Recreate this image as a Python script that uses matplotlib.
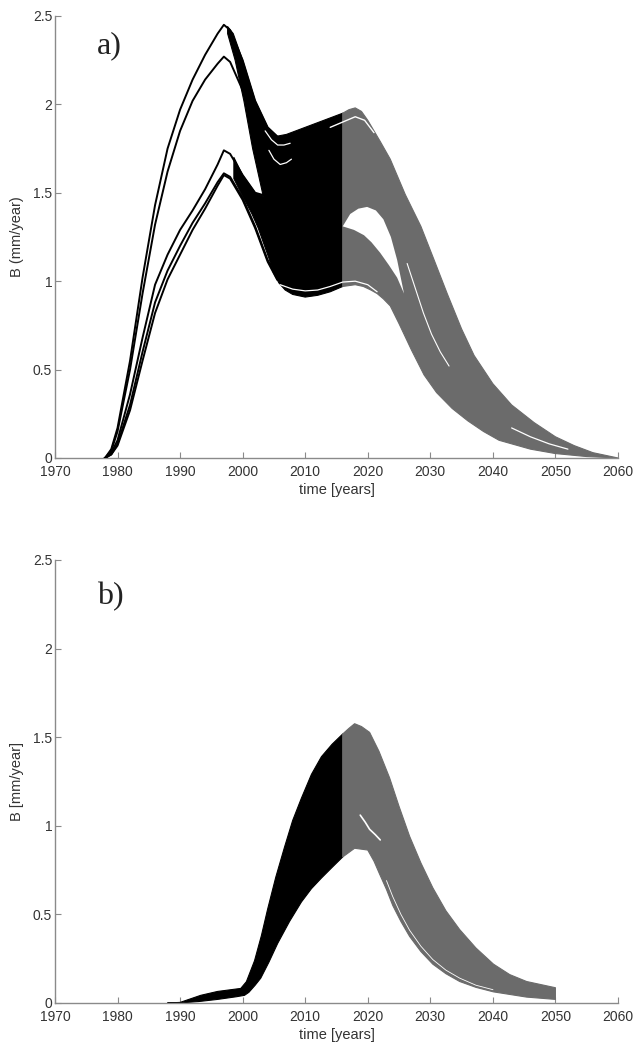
import numpy as np
import matplotlib
matplotlib.use("Agg")
import matplotlib.pyplot as plt

# ---------------- data ----------------
# panel a: individual early trajectories
a_years_early = [1978, 1979, 1980, 1982, 1984, 1986, 1988, 1990, 1992, 1994, 1996, 1997, 1998, 2000, 2002, 2004, 2005.5]
a_curve_A = [0, 0.05, 0.17, 0.55, 1.02, 1.43, 1.75, 1.97, 2.14, 2.28, 2.40, 2.45, 2.42, 2.25, 2.02, 1.87, 1.82]
a_curve_B = [0, 0.04, 0.15, 0.50, 0.93, 1.32, 1.62, 1.85, 2.02, 2.14, 2.23, 2.27, 2.24, 2.08, 1.88, 1.73, 1.68]
a_curve_C = [0, 0.03, 0.10, 0.36, 0.68, 0.98, 1.15, 1.29, 1.40, 1.52, 1.66, 1.74, 1.72, 1.60, 1.50, 1.48, 1.47]
a_curve_D = [0, 0.02, 0.08, 0.30, 0.60, 0.88, 1.06, 1.20, 1.33, 1.44, 1.56, 1.61, 1.59, 1.47, 1.31, 1.12, 1.02]
a_curve_D2 = [0, 0.02, 0.07, 0.27, 0.55, 0.82, 1.01, 1.15, 1.29, 1.41, 1.54, 1.60, 1.58, 1.46, 1.30, 1.11, 1.01]

# panel a: ensemble outline up to 2016 (black) - top edge and bottom outline
a_black_top_years = [1997.6, 1998.5, 2000, 2002, 2004, 2005.5, 2007, 2010, 2013, 2016]
a_black_top_vals = [2.44, 2.40, 2.25, 2.02, 1.87, 1.82, 1.83, 1.87, 1.91, 1.95]
a_black_bot_years = [1997.6, 1998.8, 2000.2, 2001.6, 2003.3, 2002.0, 2000.0, 1998.6, 1998.6, 2000.0, 2001.5,
                     2002.5, 2003.3, 2004.2, 2004.9, 2005.8, 2006.8, 2008, 2010, 2012, 2014, 2016]
a_black_bot_vals = [2.40, 2.25, 2.02, 1.75, 1.48, 1.50, 1.60, 1.70, 1.58, 1.48, 1.38,
                    1.30, 1.22, 1.13, 1.05, 0.99, 0.95, 0.925, 0.91, 0.92, 0.94, 0.97]

# panel a: projection after 2016 (grey)
a_grey_top_years = [2016, 2017, 2018, 2019, 2020, 2022, 2023.6, 2026, 2028.5, 2030.5, 2032.7, 2035, 2037, 2040, 2043,
                    2046.6, 2050, 2053, 2056, 2060]
a_grey_top_vals = [1.95, 1.97, 1.98, 1.96, 1.91, 1.79, 1.69, 1.49, 1.31, 1.13, 0.93, 0.73, 0.58, 0.42, 0.30,
                   0.20, 0.12, 0.07, 0.03, 0.0]
a_grey_bot_years = [2016, 2018, 2019.3, 2020.5, 2021.5, 2022.5, 2023.6, 2025, 2027, 2029, 2031, 2033.5, 2036, 2038.5,
                    2041, 2046, 2050, 2055, 2060]
a_grey_bot_vals = [0.97, 0.98, 0.97, 0.95, 0.93, 0.90, 0.86, 0.76, 0.61, 0.47, 0.37, 0.28, 0.21, 0.15,
                   0.10, 0.05, 0.025, 0.008, 0.0]

# panel a: white gaps between trajectory groups
a_hole_years = [2016.0, 2017.2, 2018.5, 2019.9, 2021.3, 2022.5, 2023.7, 2024.7, 2025.8, 2024.7, 2023.4, 2022.0, 2020.6, 2019.4, 2017.8]
a_hole_vals = [1.31, 1.38, 1.41, 1.42, 1.40, 1.35, 1.25, 1.12, 0.93, 1.02, 1.09, 1.16, 1.22, 1.26, 1.29]
a_gap1_years = [2003.6, 2004.6, 2005.6, 2006.6, 2007.6]
a_gap1_vals = [1.85, 1.80, 1.77, 1.77, 1.78]
a_gap2_years = [2004.2, 2005.0, 2006.0, 2007.0, 2007.8]
a_gap2_vals = [1.74, 1.69, 1.66, 1.67, 1.69]
a_gap3_years = [2014, 2016, 2018, 2019.5, 2021]
a_gap3_vals = [1.87, 1.90, 1.93, 1.91, 1.84]
a_gap4_years = [2006, 2008, 2010, 2012, 2014, 2016, 2018, 2020, 2021.5]
a_gap4_vals = [0.98, 0.955, 0.945, 0.95, 0.97, 0.995, 1.0, 0.98, 0.94]
a_gap5_years = [2026.3, 2027.6, 2028.9, 2030.2, 2031.6, 2033.0]
a_gap5_vals = [1.10, 0.96, 0.82, 0.70, 0.60, 0.52]
a_gap6_years = [2043, 2044.5, 2046, 2047.5, 2049, 2050.5, 2052]
a_gap6_vals = [0.17, 0.145, 0.12, 0.10, 0.08, 0.065, 0.05]

# panel b
b_black_top_years = [1988, 1990, 1993.3, 1996, 1999.7, 2000.6, 2001.9, 2003, 2004, 2005.3, 2006.7, 2008, 2009.4, 2011,
                     2012.6, 2014.3, 2016]
b_black_top_vals = [0.0, 0.003, 0.043, 0.065, 0.082, 0.12, 0.238, 0.38, 0.53, 0.71, 0.88, 1.03, 1.156, 1.29,
                    1.39, 1.46, 1.518]
b_black_bot_years = [1988, 1990, 1993, 1996, 1999, 2000.3, 2001, 2002, 2002.9, 2004.2, 2005.6, 2007.5, 2009.4, 2011,
                     2012.6, 2014.3, 2016]
b_black_bot_vals = [0.0, 0.0, 0.008, 0.02, 0.035, 0.043, 0.06, 0.10, 0.14, 0.23, 0.336, 0.46, 0.57, 0.645,
                    0.705, 0.765, 0.824]
b_grey_top_years = [2016, 2017, 2017.9, 2019, 2020.3, 2021.8, 2023.5, 2025, 2026.7, 2028.5, 2030.4, 2032.5, 2034.7,
                    2037.3, 2040.1, 2042.7, 2045.4, 2050]
b_grey_top_vals = [1.518, 1.55, 1.576, 1.56, 1.527, 1.42, 1.27, 1.11, 0.94, 0.79, 0.65, 0.52, 0.414,
                   0.31, 0.219, 0.16, 0.121, 0.086]
b_grey_bot_years = [2016, 2017.9, 2020, 2021, 2021.9, 2023, 2024, 2025.3, 2026.7, 2028.5, 2030.4, 2032.5, 2034.7,
                    2037.3, 2040.1, 2045.4, 2050]
b_grey_bot_vals = [0.824, 0.873, 0.863, 0.80, 0.727, 0.64, 0.55, 0.46, 0.375, 0.29, 0.219, 0.165, 0.121,
                   0.088, 0.0625, 0.033, 0.02]
b_gap1_years = [2018.8, 2019.6, 2020.3, 2021.2, 2022]
b_gap1_vals = [1.06, 1.02, 0.98, 0.95, 0.92]
b_gap2_years = [2023, 2024, 2025.3, 2026.7, 2028.5, 2030.4, 2032.5, 2034.7, 2037.3, 2040]
b_gap2_vals = [0.69, 0.60, 0.50, 0.41, 0.32, 0.245, 0.185, 0.14, 0.10, 0.075]

x_ticks = [1970, 1980, 1990, 2000, 2010, 2020, 2030, 2040, 2050, 2060]
y_ticks = [0, 0.5, 1, 1.5, 2, 2.5]
y_ticklabels = ["0", "0.5", "1", "1.5", "2", "2.5"]

# ---------------- drawing ----------------
plt.rcParams['font.family'] = ['Liberation Sans', 'DejaVu Sans']
BLACK = "#000000"
GREY = "#6b6b6b"
AXC = "#8a8a8a"
TXT = "#333333"

fig = plt.figure(figsize=(6.37, 10.43), dpi=100)
ax_a = fig.add_axes([0.0863, 0.5609, 0.8838, 0.4238])
ax_b = fig.add_axes([0.0863, 0.0384, 0.8838, 0.4247])


def poly(ax, tx, ty, bx, by, color):
    xs = list(tx) + list(bx)[::-1]
    ys = list(ty) + list(by)[::-1]
    ax.fill(xs, ys, color=color, lw=0.8, ec=color, zorder=2, joinstyle="round")


def style(ax, ylabel, tag, tag_y):
    ax.set_xlim(1970, 2060)
    ax.set_ylim(0, 2.5)
    ax.set_xticks(x_ticks)
    ax.set_yticks(y_ticks)
    ax.set_yticklabels(y_ticklabels)
    for s in ["top", "right"]:
        ax.spines[s].set_visible(False)
    for s in ["left", "bottom"]:
        ax.spines[s].set_color(AXC)
        ax.spines[s].set_linewidth(1.0)
    ax.tick_params(direction="in", length=4, width=0.8, color=AXC,
                   labelsize=10, labelcolor=TXT)
    ax.tick_params(axis="x", pad=5)
    ax.tick_params(axis="y", pad=2)
    ax.set_xlabel("time [years]", fontsize=10.5, color=TXT, labelpad=3)
    ax.set_ylabel(ylabel, fontsize=10.5, color=TXT, labelpad=6)
    ax.text(0.0747, tag_y, tag, transform=ax.transAxes, fontsize=23,
            family=["Liberation Serif", "DejaVu Serif"], color="#222222",
            ha="left", va="baseline")
    ax.set_facecolor("white")


# panel a
for c in [a_curve_A, a_curve_B, a_curve_C, a_curve_D, a_curve_D2]:
    ax_a.plot(a_years_early, c, color=BLACK, lw=1.4, zorder=3)
poly(ax_a, a_black_top_years, a_black_top_vals, a_black_bot_years, a_black_bot_vals, BLACK)
poly(ax_a, a_grey_top_years, a_grey_top_vals, a_grey_bot_years, a_grey_bot_vals, GREY)
ax_a.fill(a_hole_years, a_hole_vals, color="white", lw=0, zorder=4)
for gx, gy, lw in [(a_gap1_years, a_gap1_vals, 0.9), (a_gap2_years, a_gap2_vals, 0.9),
                   (a_gap3_years, a_gap3_vals, 1.0), (a_gap4_years, a_gap4_vals, 0.9),
                   (a_gap5_years, a_gap5_vals, 0.8), (a_gap6_years, a_gap6_vals, 0.9)]:
    ax_a.plot(gx, gy, color="white", lw=lw, zorder=5, solid_capstyle="round")
style(ax_a, "B (mm/year)", "a)", 0.916)

# panel b
poly(ax_b, b_black_top_years, b_black_top_vals, b_black_bot_years, b_black_bot_vals, BLACK)
poly(ax_b, b_grey_top_years, b_grey_top_vals, b_grey_bot_years, b_grey_bot_vals, GREY)
ax_b.plot(b_gap1_years, b_gap1_vals, color="white", lw=1.2, zorder=5, solid_capstyle="round")
ax_b.plot(b_gap2_years, b_gap2_vals, color="white", lw=0.6, zorder=5)
style(ax_b, "B [mm/year]", "b)", 0.90)

fig.savefig("out.png", dpi=100, facecolor="white")
